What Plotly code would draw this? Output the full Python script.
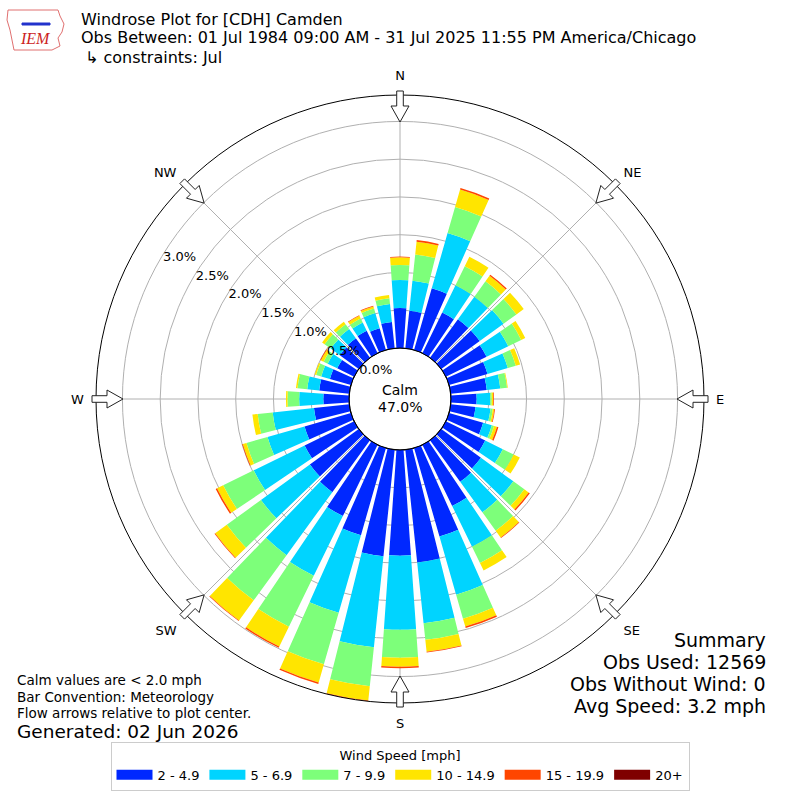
import math
import plotly.graph_objects as go

# wind direction bins (deg, direction wind blows from)
directions = [10, 20, 30, 40, 50, 60, 70, 80, 90, 100, 110, 120,
              130, 140, 150, 160, 170, 180, 190, 200, 210, 220, 230, 240,
              250, 260, 270, 280, 290, 300, 310, 320, 330, 340, 350, 360]

# frequency (%) per speed bin
spd_2_5 = [0.50, 0.85, 0.60, 0.63, 0.63, 0.60, 0.53, 0.48, 0.34, 0.33, 0.47, 0.58,
           0.65, 0.68, 0.90, 1.22, 1.50, 1.40, 1.42, 1.20, 1.05, 0.85, 0.80, 0.73,
           0.64, 0.47, 0.34, 0.40, 0.29, 0.25, 0.31, 0.32, 0.33, 0.30, 0.35, 0.53]
spd_5_7 = [0.40, 0.76, 0.40, 0.37, 0.39, 0.32, 0.28, 0.18, 0.18, 0.20, 0.12, 0.26,
           0.53, 0.50, 0.60, 0.80, 0.81, 0.98, 1.21, 1.07, 0.88, 1.03, 0.80, 0.75,
           0.51, 0.55, 0.32, 0.16, 0.12, 0.14, 0.15, 0.15, 0.12, 0.21, 0.24, 0.37]
spd_7_10 = [0.35, 0.36, 0.28, 0.25, 0.21, 0.19, 0.11, 0.09, 0.02, 0.03, 0.03, 0.16,
            0.18, 0.30, 0.24, 0.33, 0.22, 0.37, 0.52, 0.71, 0.75, 0.74, 0.56, 0.45,
            0.29, 0.20, 0.155, 0.13, 0.07, 0.06, 0.10, 0.08, 0.06, 0.06, 0.075, 0.20]
spd_10_15 = [0.17, 0.24, 0.14, 0.09, 0.12, 0.06, 0.06, 0.01, 0.02, 0.02, 0.04, 0.09,
             0.07, 0.11, 0.11, 0.11, 0.16, 0.12, 0.19, 0.25, 0.29, 0.33, 0.19, 0.09,
             0.05, 0.07, 0.02, 0.02, 0.02, 0.04, 0.04, 0.04, 0.04, 0.03, 0.045, 0.10]
spd_15_20 = [0.02, 0.02, 0.00, 0.02, 0.00, 0.00, 0.00, 0.00, 0.01, 0.01, 0.02, 0.00,
             0.02, 0.01, 0.00, 0.02, 0.01, 0.02, 0.01, 0.02, 0.02, 0.01, 0.01, 0.02,
             0.01, 0.00, 0.00, 0.00, 0.00, 0.01, 0.00, 0.00, 0.01, 0.01, 0.00, 0.01]
spd_20_up = [0.0] * 36

bin_labels = ["2 - 4.9", "5 - 6.9", "7 - 9.9", "10 - 14.9", "15 - 19.9", "20+"]
bin_colors = ["#0028ff", "#00d4ff", "#7dff7a", "#ffe500", "#ff4600", "#7f0000"]
series = [spd_2_5, spd_5_7, spd_7_10, spd_10_15, spd_15_20, spd_20_up]

rticks = [0.0, 0.5, 1.0, 1.5, 2.0, 2.5, 3.0]
compass = ["N", "NE", "E", "SE", "S", "SW", "W", "NW"]
calm_pct = 47.0
rmax = max(sum(s[i] for s in series) for i in range(len(directions)))

fig = go.Figure()
for vals, name, col in zip(series, bin_labels, bin_colors):
    fig.add_trace(go.Barpolar(r=vals, theta=directions, width=8, name=name,
                              showlegend=False,
                              marker=dict(color=col, line=dict(width=0))))
# legend swatches as wide rectangles (thick line symbols)
for name, col in zip(bin_labels, bin_colors):
    fig.add_trace(go.Scatterpolar(r=[None], theta=[None], mode="lines", name=name,
                                  line=dict(color=col, width=10)))

W = H = 800
cx, cy, R = 400, 399, 304          # polar centre / radius in px
hole_px = 51


def px2paper(x, y):
    return x / W, 1 - y / H


def poly(points):
    s = ""
    for i, (x, y) in enumerate(points):
        px, py = px2paper(x, y)
        s += ("M" if i == 0 else "L") + f"{px:.5f},{py:.5f} "
    return s + "Z"


# calm circle
x0, y0 = px2paper(cx - hole_px, cy + hole_px)
x1, y1 = px2paper(cx + hole_px, cy - hole_px)
shapes = [dict(type="circle", xref="paper", yref="paper", x0=x0, y0=y0, x1=x1, y1=y1,
               line=dict(color="black", width=1.2), fillcolor="white", layer="below")]

# flow arrows on the rim, pointing at the centre
for k in range(8):
    th = math.radians(45 * k)
    ux, uy = math.sin(th), -math.cos(th)
    vx, vy = math.cos(th), math.sin(th)
    pts = [(277, 0), (293, 9), (293, 3.3), (308, 3.3), (308, -3.3), (293, -3.3), (293, -9)]
    shapes.append(dict(type="path", xref="paper", yref="paper",
                       path=poly([(cx + rr * ux + ww * vx, cy + rr * uy + ww * vy) for rr, ww in pts]),
                       line=dict(color="#222222", width=1), fillcolor="white", layer="above"))

# rough IEM logo outline
logo = [(8, 10), (58, 10), (60, 16), (64, 24), (62, 32), (58, 38), (60, 46), (52, 50), (14, 50), (12, 40), (10, 30), (7, 20)]
shapes.append(dict(type="path", xref="paper", yref="paper", path=poly(logo),
                   line=dict(color="#e07070", width=1), fillcolor="white", layer="above"))
shapes.append(dict(type="path", xref="paper", yref="paper",
                   path=poly([(22, 23), (50, 23), (50, 25), (22, 25)]),
                   line=dict(color="#2233cc", width=1), fillcolor="#2233cc", layer="above"))

font = "DejaVu Sans"
annotations = []


def note(x, y, text, size, anchor="left", color="black", family=font):
    px, py = px2paper(x, y)
    annotations.append(dict(x=px, y=py, xref="paper", yref="paper", text=text, showarrow=False,
                            xanchor=anchor, yanchor="middle", borderpad=0,
                            font=dict(size=size, color=color, family=family)))


note(80, 19, "Windrose Plot for [CDH] Camden", 16)
note(80, 38, "Obs Between: 01 Jul 1984 09:00 AM - 31 Jul 2025 11:55 PM America/Chicago", 16)
note(84, 57, "↳ constraints: Jul", 16)
note(35, 39, "<i>IEM</i>", 16, anchor="center", color="#cc2222", family="Liberation Serif")
note(400, 390, "Calm", 14, anchor="center")
note(400, 407, f"{calm_pct:.1f}%", 14, anchor="center")
note(16, 680, "Calm values are < 2.0 mph", 13.5)
note(16, 697, "Bar Convention: Meteorology", 13.5)
note(16, 713, "Flow arrows relative to plot center.", 13.5)
note(16, 731, "Generated: 02 Jun 2026", 18.5)
note(767, 640, "Summary", 19, anchor="right")
note(767, 662, "Obs Used: 12569", 19, anchor="right")
note(767, 684, "Obs Without Wind: 0", 19, anchor="right")
note(767, 706, "Avg Speed: 3.2 mph", 19, anchor="right")

dx0, dy1 = px2paper(cx - R, cy - R)
dx1, dy0 = px2paper(cx + R, cy + R)
fig.update_layout(
    width=W, height=H, margin=dict(l=0, r=0, t=0, b=0),
    paper_bgcolor="white", plot_bgcolor="white",
    font=dict(family=font, size=13, color="black"),
    polar=dict(
        domain=dict(x=[dx0, dx1], y=[dy0, dy1]),
        bgcolor="rgba(0,0,0,0)",
        hole=hole_px / R,
        barmode="stack",
        radialaxis=dict(range=[0, rmax], tickvals=rticks,
                        ticktext=[f"{v:.1f}%" for v in rticks],
                        angle=150, tickangle=150, showline=False, ticks="",
                        gridcolor="#b0b0b0", gridwidth=1,
                        tickfont=dict(size=13, family=font)),
        angularaxis=dict(rotation=90, direction="clockwise",
                         tickvals=[45 * k for k in range(8)], ticktext=compass,
                         showline=True, linecolor="black", linewidth=1,
                         gridcolor="#b0b0b0", gridwidth=1,
                         ticks="outside", ticklen=9, tickcolor="rgba(0,0,0,0)",
                         tickfont=dict(size=13, family=font)),
    ),
    legend=dict(orientation="h", x=0.5, xanchor="center", y=1 - 742 / H, yanchor="top",
                bordercolor="#cccccc", borderwidth=1, bgcolor="white", itemwidth=36,
                title=dict(text="Wind Speed [mph]", side="top center", font=dict(size=13)),
                font=dict(size=13)),
    shapes=shapes, annotations=annotations, showlegend=True,
)

fig.write_html("out.html", config={"displayModeBar": False},
               post_script="document.body.style.margin='0';")
